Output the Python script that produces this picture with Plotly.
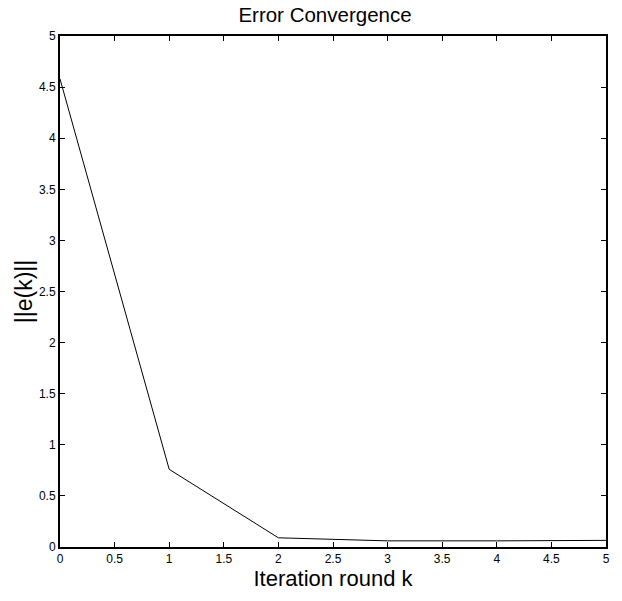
import plotly.graph_objects as go

k = [0, 1, 2, 3, 4, 5]
err = [4.58, 0.76, 0.09, 0.06, 0.06, 0.065]
ticks = [0, 0.5, 1, 1.5, 2, 2.5, 3, 3.5, 4, 4.5, 5]

FONT = "Liberation Sans, Arial"

fig = go.Figure()
fig.add_trace(go.Scatter(x=k, y=err, mode="lines", line=dict(color="black", width=1), showlegend=False))

axis_common = dict(
    range=[0, 5], tickvals=ticks, ticktext=[f"{t:g}" for t in ticks],
    ticks="inside", ticklen=5, tickwidth=1, tickcolor="black",
    showline=True, linecolor="black", linewidth=2, mirror="ticks",
    showgrid=False, zeroline=False,
    tickfont=dict(family=FONT, size=12, color="black"),
)

fig.update_layout(
    width=622, height=601,
    margin=dict(l=60, r=14, t=36, b=54),
    paper_bgcolor="white", plot_bgcolor="white",
    title=dict(text="Error Convergence", x=0.5225, xanchor="center", y=0.976, yanchor="middle",
               pad=dict(t=0, b=0),
               font=dict(family=FONT, size=20.5, color="black")),
    xaxis=dict(**axis_common, title=dict(text="Iteration round k", standoff=3,
               font=dict(family=FONT, size=22, color="black"))),
    yaxis=dict(**axis_common, title=dict(text="||e(k)||", standoff=0,
               font=dict(family=FONT, size=23, color="black"))),
)

fig.write_html("out.html", config={"displayModeBar": False},
               post_script="document.body.style.margin='0';")
